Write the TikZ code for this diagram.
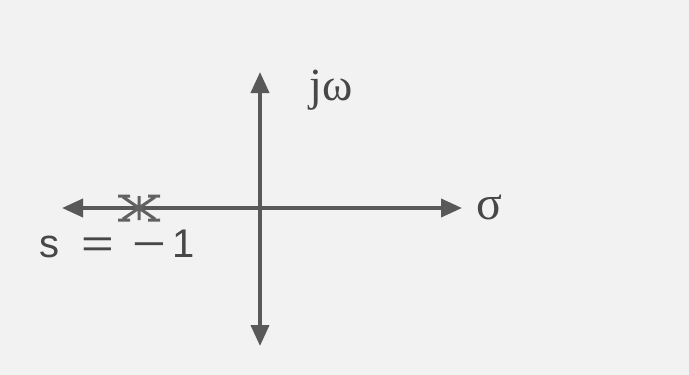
\documentclass[tikz,border=0pt]{standalone}
\usepackage{fontspec}
\setsansfont{Liberation Sans}
\newfontfamily\grk{Liberation Serif}
\usetikzlibrary{arrows.meta}

\begin{document}
\begin{tikzpicture}[x=1pt,y=-1pt,
  axis/.style={line width=3.8pt,draw=black!65,fill=black!65,
    {Triangle[length=21pt,width=18pt]}-{Triangle[length=21pt,width=18pt]}},
  lbl/.style={text=black!72,inner sep=0pt},
  polemark/.style={line width=3pt,draw=black!62}]
\fill[black!5] (0,0) rectangle (689,375);
% axes
\coordinate (o) at (260,208);
\coordinate (w) at (62,208);
\coordinate (e) at (462,208);
\coordinate (n) at (260,72);
\coordinate (s) at (260,346);
\draw[axis] (w) -- (e);
\draw[axis] (s) -- (n);
% labels
\node[lbl] (jw) at (331,90) {\grk\fontsize{46}{50}\selectfont jω};
\node[lbl] (sig) at (489,207) {\grk\fontsize{48}{52}\selectfont σ};
% pole at s=-1
\coordinate (p) at (139,208);
\draw[polemark] ([shift={(-16,-11)}]p) -- ([shift={(16,11)}]p)
  ([shift={(-16,11)}]p) -- ([shift={(16,-11)}]p)
  ([shift={(-21,-12)}]p) -- ([shift={(-9,-12)}]p)
  ([shift={(9,-12)}]p) -- ([shift={(21,-12)}]p)
  ([shift={(-21,12)}]p) -- ([shift={(-9,12)}]p)
  ([shift={(9,12)}]p) -- ([shift={(21,12)}]p)
  ([shift={(0,-12)}]p) -- ([shift={(0,12)}]p);
\node[lbl] (pl) at (117,244) {\sffamily\fontsize{40}{46}\selectfont
  s\hspace{22pt}\scalebox{1.4}[1]{=}\hspace{18pt}\scalebox{1.45}[1]{−}\hspace{6pt}1};
\end{tikzpicture}
\end{document}
